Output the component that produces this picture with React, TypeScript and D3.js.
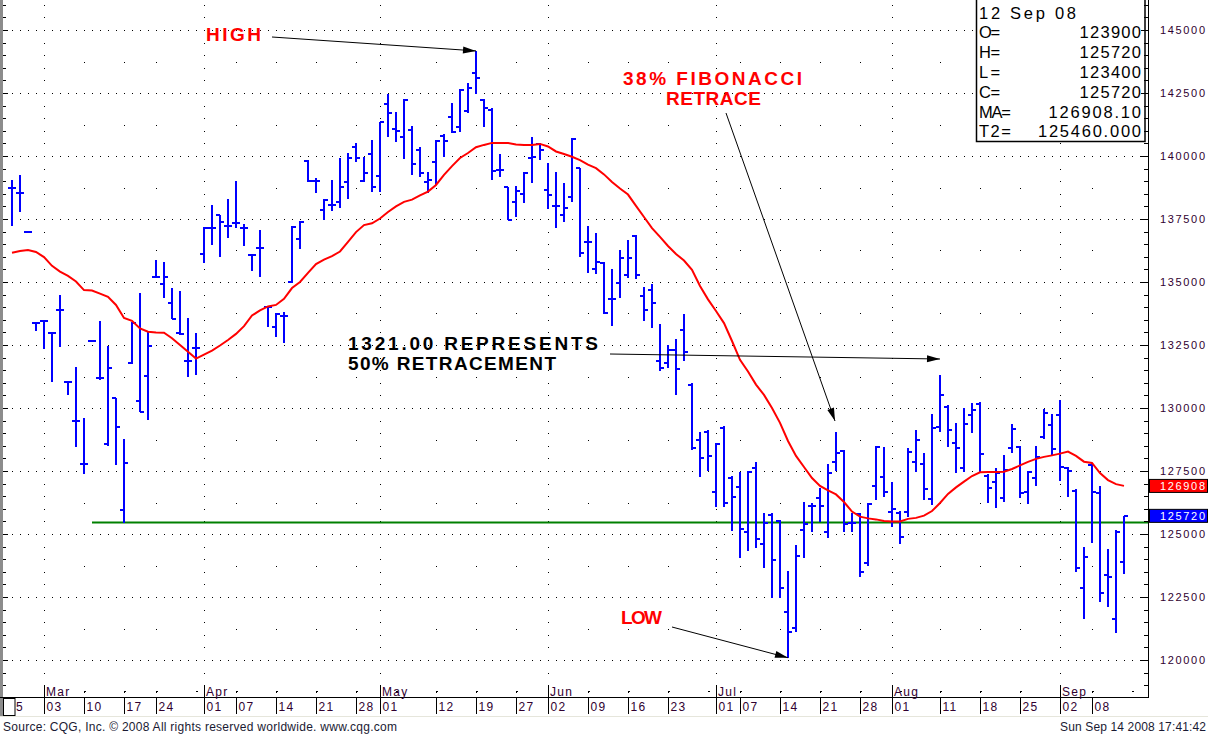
import React from 'react';
import * as d3 from 'd3';

// ---- data ----
const dayLabels = ['25','03','10','17','24','01','07','14','21','28','01','12','19','27','02','09','16','23','01','07','14','21','28','01','11','18','25','02','08'];
const dayTickIdx = [-1,4,9,14,18,24,28,33,38,43,46,53,58,63,67,72,77,82,88,91,96,101,106,110,116,121,126,131,135];
const monthLabels = ['Mar','Apr','May','Jun','Jul','Aug','Sep'];
const monthTickIdx = [4,24,46,67,88,110,131];
const weekIdx = [9,14,18,23,28,33,38,43,48,53,58,63,72,77,82,87,91,96,101,106,111,116,121,126,135,140];

const opens = [
138740,138520,137000,133390,133450,132980,133890,131040,129500,127770,
132670,131180,128570,130390,125950,131790,130290,131270,135180,134910,
134180,132960,131880,132370,136100,137160,137640,137230,137340,137160,
136070,136340,133990,133200,133660,135000,136710,139800,139020,137860,
138060,138190,138980,140350,139020,140080,139220,142050,141070,140770,
141030,140240,138980,139750,140810,141540,141160,141790,143310,142220,
141830,139440,138770,138190,138480,139920,140460,138650,138020,137660,
138390,139510,136600,135500,135750,134330,134970,135280,136830,134440,
134680,131880,131800,132300,133100,130910,128730,129050,126680,129210,
127220,126880,125090,127610,124590,125750,125520,121890,121270,125160,
126120,126440,125090,127870,128290,125420,125790,123860,126900,127250,
125890,125830,125890,127870,127770,126380,129260,130040,128600,127610,
129720,130160,127300,127080,126430,128400,128440,126680,127210,128860,
129330,129720,127620,126700,122870,127740,126640,123370,121620,123900];

const highs = [
139050,139250,137010,133400,133490,133000,134480,131050,131620,129590,
132680,133450,132460,130390,128760,133400,134550,133030,135870,135780,
134750,134640,133560,132960,137200,138060,137660,138290,139010,137290,
136100,137060,134020,133760,133820,137220,137430,139840,139120,138280,
139050,139910,140110,140500,139950,140640,141340,142450,141760,142250,
141190,140350,139380,140640,140860,142120,142650,142890,144170,142250,
141920,140070,138780,138820,139350,140770,140500,139730,139380,138940,
140700,139540,137220,136960,135810,135500,136270,136670,136870,134790,
134910,133320,132500,132740,133730,130980,129060,129130,128600,129290,
127300,127450,127510,127850,125820,125820,125560,123540,124560,126280,
126220,126810,127780,129060,128330,125850,125850,126240,128490,128440,
127080,125910,128400,129130,128200,129750,131310,130120,129390,129990,
130190,130230,127370,127610,128140,129370,128490,127500,128490,129950,
129760,130320,127670,126770,124470,127830,126900,124390,125160,125720];

const lows = [
137230,137790,136990,133070,132340,131040,132430,130520,128440,127370,
132660,131110,128490,127740,125450,131750,129830,129520,135150,134350,
133520,132900,131240,131310,135740,136470,136000,136760,137130,136440,
135450,135190,133230,132830,132570,134950,136300,138980,138520,137460,
137830,137920,138280,139770,138980,138560,138580,140770,140570,139880,
139250,139180,138520,138850,139970,140930,140960,141690,142460,141160,
139050,139180,137460,137590,138150,138940,139840,137890,137130,137390,
138190,135980,135350,135310,133720,133250,134350,135170,135110,133470,
133160,131470,131580,130520,131880,128330,127250,127510,126060,126060,
125130,124040,124340,124460,123640,122470,122470,120090,121100,124040,
125090,125490,124830,127510,125070,125070,123280,123730,126350,126460,
125290,124590,125690,127470,126350,126150,129060,128460,127410,127470,
129020,127410,126240,126040,126280,128230,126420,126190,126900,128760,
128140,127120,126480,123480,121620,124660,122290,122090,121080,123400];

const closes = [
138740,138520,137000,133390,133450,132980,133890,131040,129500,127770,
132670,131180,131580,129260,127830,133390,129850,132470,135180,135190,
133530,132930,131850,132370,137160,137160,137390,137230,137340,137160,
136070,136340,133990,133730,133660,137180,137390,138990,139020,138250,
138060,138780,139910,139930,139310,138760,141340,141720,140990,142220,
139670,139310,139050,140610,140610,140940,142620,142710,143110,141890,
139410,139440,137460,138610,139340,139970,140240,138450,138020,137920,
140680,136140,136600,135810,133760,134330,135940,135940,135280,133890,
134160,131590,132300,131540,132230,128410,128000,128100,128570,126240,
126480,125190,127450,124790,125420,123970,122850,121120,124130,125400,
126120,126120,127410,128230,125390,125420,123500,126190,128470,126680,
125990,124890,128270,128730,126770,129220,130520,129130,128430,129370,
129920,128180,126840,127410,127540,129170,126620,127460,128040,129790,
128390,127650,127500,123640,124100,126680,122650,123310,125090,125720];

const maValues = [
136160,136230,136270,136190,135990,135640,135410,135240,135020,134680,
134660,134540,134410,134090,133570,133460,133160,133030,133000,132990,
132770,132500,132230,131960,132120,132280,132480,132700,132940,133250,
133670,133870,134030,134090,134330,134760,135000,135360,135710,135890,
136030,136210,136590,136980,137260,137330,137520,137780,138000,138180,
138270,138440,138590,138850,139250,139600,139920,140120,140350,140440,
140520,140520,140520,140460,140440,140440,140480,140380,140180,140080,
139970,139840,139660,139520,139270,138970,138710,138470,138020,137580,
137140,136790,136430,136110,135850,135480,134840,134310,133850,133370,
132660,131910,131450,130930,130520,130000,129410,128690,128100,127660,
127220,126910,126730,126570,126270,125890,125690,125620,125580,125520,
125500,125500,125600,125640,125730,125910,126230,126590,126850,127080,
127300,127450,127460,127460,127470,127580,127720,127860,127980,128060,
128120,128190,128270,128100,127870,127820,127420,127140,126980,126910];

const t2Value = 125460;
const t2StartIdx = 10;
const lastMA = 126908;
const lastClose = 125720;
const infoDate = '12 Sep 08';
const infoLabels = ['O=', 'H=', 'L=', 'C=', 'MA=', 'T2='];
const infoValues = ['123900', '125720', '123400', '125720', '126908.10', '125460.000'];

const BLUE = '#0000ff';
const RED = '#ff0000';
const GREEN = '#008000';
const AXC = '#300030';

function arrowHead(x1: number, y1: number, x2: number, y2: number) {
  const a = Math.atan2(y2 - y1, x2 - x1);
  const L = 13, W = 3.5;
  const bx = x2 - L * Math.cos(a), by = y2 - L * Math.sin(a);
  return `${x2},${y2} ${bx + W * Math.sin(a)},${by - W * Math.cos(a)} ${bx - W * Math.sin(a)},${by + W * Math.cos(a)}`;
}

function Arrow({ x1, y1, x2, y2 }: { x1: number; y1: number; x2: number; y2: number }) {
  return (
    <g>
      <line x1={x1} y1={y1} x2={x2} y2={y2} stroke="#000" strokeWidth={1} />
      <polygon points={arrowHead(x1, y1, x2, y2)} fill="#000" />
    </g>
  );
}

export default function App() {
  const W = 1210, H = 735;
  const x = d3.scaleLinear().domain([0, 139]).range([12, 1124]);
  const y = d3.scaleLinear().domain([120000, 145000]).range([660, 30]);
  const plotBottom = 697;
  const axisX = 1148;

  const rowVals = d3.range(120000, 145001, 2500);
  const minorVals = d3.range(118000, 146501, 500).filter(v => y(v) >= 0 && y(v) <= plotBottom);
  const midVals = d3.range(118750, 146300, 2500).filter(v => y(v) >= 0 && y(v) <= plotBottom);

  const dots: JSX.Element[] = [];
  rowVals.forEach(v => {
    for (let px = 4; px <= 1140; px += 8) {
      dots.push(<rect key={`r${v}-${px}`} x={px} y={Math.round(y(v))} width={1} height={1} fill="#000" />);
    }
  });
  dayTickIdx.forEach((idx, k) => {
    if (idx < 0) return;
    const px = Math.round(x(idx));
    const isMonth = monthTickIdx.includes(idx);
    const vals = isMonth ? minorVals : midVals;
    vals.forEach(v => {
      dots.push(<rect key={`c${k}-${v}`} x={px} y={Math.round(y(v))} width={1} height={1} fill="#000" />);
    });
  });

  const maLine = d3.line<number>().x((_, i) => x(i)).y(d => y(d))(maValues) || '';

  const font = 'Liberation Sans, Arial, sans-serif';

  return (
    <svg width={W} height={H} viewBox={`0 0 ${W} ${H}`} style={{ position: 'absolute', left: 0, top: 0, background: '#fff' }}>
      <rect x={0} y={0} width={W} height={H} fill="#fff" />
      {/* grid dots */}
      <g shapeRendering="crispEdges">{dots}</g>

      {/* left strip and ticks */}
      <rect x={0} y={0} width={3} height={716} fill="#8c8c8c" />
      <g stroke="#000" strokeWidth={1} shapeRendering="crispEdges">
        {minorVals.map(v => (
          <line key={`lt${v}`} x1={3} x2={v % 2500 === 0 ? 8 : 6} y1={Math.round(y(v)) + 0.5} y2={Math.round(y(v)) + 0.5} />
        ))}
      </g>

      {/* T2 green line */}
      <line x1={x(t2StartIdx)} x2={axisX} y1={y(t2Value)} y2={y(t2Value)} stroke={GREEN} strokeWidth={2} />

      {/* OHLC bars */}
      <g stroke={BLUE} strokeWidth={2} shapeRendering="crispEdges">
        {opens.map((o, i) => {
          const cx = x(i);
          return (
            <g key={`b${i}`}>
              <line x1={cx} x2={cx} y1={y(highs[i])} y2={y(lows[i])} />
              <line x1={cx - 4} x2={cx} y1={y(o)} y2={y(o)} />
              <line x1={cx} x2={cx + 4} y1={y(closes[i])} y2={y(closes[i])} />
            </g>
          );
        })}
      </g>

      {/* moving average */}
      <path d={maLine} fill="none" stroke={RED} strokeWidth={2} />

      {/* annotations */}
      <g fontFamily={font} fontWeight="bold" fontSize={19}>
        <text x={206} y={41} fill={RED} textLength={55} lengthAdjust="spacing">HIGH</text>
        <text x={623} y={85} fill={RED} textLength={179} lengthAdjust="spacing">38% FIBONACCI</text>
        <text x={666} y={105} fill={RED} textLength={95} lengthAdjust="spacing">RETRACE</text>
        <text x={348} y={350} fill="#000" textLength={250} lengthAdjust="spacing">1321.00 REPRESENTS</text>
        <text x={348} y={370} fill="#000" textLength={208} lengthAdjust="spacing">50% RETRACEMENT</text>
        <text x={621} y={624} fill={RED} textLength={41} lengthAdjust="spacing">LOW</text>
      </g>
      <Arrow x1={272} y1={37} x2={x(58)} y2={y(highs[58])} />
      <Arrow x1={726} y1={113} x2={835} y2={421} />
      <Arrow x1={610} y1={354} x2={940} y2={359} />
      <Arrow x1={672} y1={627} x2={x(97)} y2={y(lows[97])} />

      {/* info box */}
      <rect x={976.5} y={-1} width={168.5} height={142.5} fill="#fff" stroke="#000" strokeWidth={1.5} />
      <g fontFamily={font} fontSize={16.5} fill="#000">
        <text x={979} y={18.5} textLength={97} lengthAdjust="spacing">{infoDate}</text>
        {infoLabels.map((l, k) => (
          <text key={`il${k}`} x={979} y={38.3 + k * 19.8} textLength={l.length * 10.6} lengthAdjust="spacing">{l}</text>
        ))}
        {infoValues.map((v, k) => (
          <text key={`iv${k}`} x={1141} y={38.3 + k * 19.8} textAnchor="end" textLength={v.length * 10.4 - 1} lengthAdjust="spacing">{v}</text>
        ))}
      </g>

      {/* right axis */}
      <line x1={axisX + 0.5} x2={axisX + 0.5} y1={0} y2={plotBottom} stroke="#000" strokeWidth={1} />
      <g stroke="#000" strokeWidth={1} shapeRendering="crispEdges">
        {minorVals.map(v => (
          <line key={`rt${v}`} x1={v % 2500 === 0 ? axisX - 7 : axisX - 4} x2={axisX} y1={Math.round(y(v)) + 0.5} y2={Math.round(y(v)) + 0.5} />
        ))}
      </g>
      <g fontFamily={font} fontSize={11} fill={AXC}>
        {rowVals.map(v => (
          <text key={`rl${v}`} x={1205} y={y(v) + 4} textAnchor="end" textLength={45} lengthAdjust="spacing">{v}</text>
        ))}
      </g>
      {/* price tags */}
      <rect x={1149.5} y={y(lastMA) - 6.5} width={58} height={13} fill={RED} stroke="#000" strokeWidth={1} />
      <text x={1205} y={y(lastMA) + 4.5} textAnchor="end" fontFamily={font} fontSize={11} fill="#fff" textLength={45} lengthAdjust="spacing">{Math.round(lastMA)}</text>
      <rect x={1149.5} y={y(lastClose) - 6.5} width={58} height={13} fill={BLUE} stroke="#000" strokeWidth={1} />
      <text x={1205} y={y(lastClose) + 4.5} textAnchor="end" fontFamily={font} fontSize={11} fill="#fff" textLength={45} lengthAdjust="spacing">{lastClose}</text>

      {/* date axis */}
      <line x1={0} x2={axisX + 1} y1={697.5} y2={697.5} stroke="#000" strokeWidth={1} />
      <g stroke="#000" strokeWidth={1} shapeRendering="crispEdges">
        {monthTickIdx.map(i => (
          <line key={`mt${i}`} x1={Math.round(x(i)) + 0.5} x2={Math.round(x(i)) + 0.5} y1={685} y2={697} />
        ))}
        {weekIdx.map(i => (
          <line key={`wt${i}`} x1={Math.round(x(i))} x2={Math.round(x(i)) + 2} y1={691.5} y2={691.5} />
        ))}
        {dayTickIdx.map(i => (
          <line key={`dt${i}`} x1={Math.round(x(i)) + 0.5} x2={Math.round(x(i)) + 0.5} y1={698} y2={714} />
        ))}
      </g>
      <g fontFamily={font} fontSize={12} fill={AXC} letterSpacing={1.3}>
        {monthLabels.map((m, k) => (
          <text key={`ml${k}`} x={x(monthTickIdx[k]) + 2} y={696}>{m}</text>
        ))}
        {dayLabels.map((d, k) => (
          <text key={`dl${k}`} x={dayTickIdx[k] < 0 ? 8 : x(dayTickIdx[k]) + 2.5} y={711}>{d}</text>
        ))}
      </g>
      <rect x={3.5} y={698.5} width={11.5} height={17} fill="#fff" stroke="#000" strokeWidth={1} />

      {/* footer */}
      <line x1={0} x2={1208} y1={716.5} y2={716.5} stroke="#e6e6dc" strokeWidth={1} />
      <g fontFamily={font} fontSize={12} fill="#1a1a33">
        <text x={3} y={731} textLength={394} lengthAdjust="spacing">Source: CQG, Inc. © 2008 All rights reserved worldwide. www.cqg.com</text>
        <text x={1206} y={731} textAnchor="end" textLength={146} lengthAdjust="spacing">Sun Sep 14 2008 17:41:42</text>
      </g>
    </svg>
  );
}
